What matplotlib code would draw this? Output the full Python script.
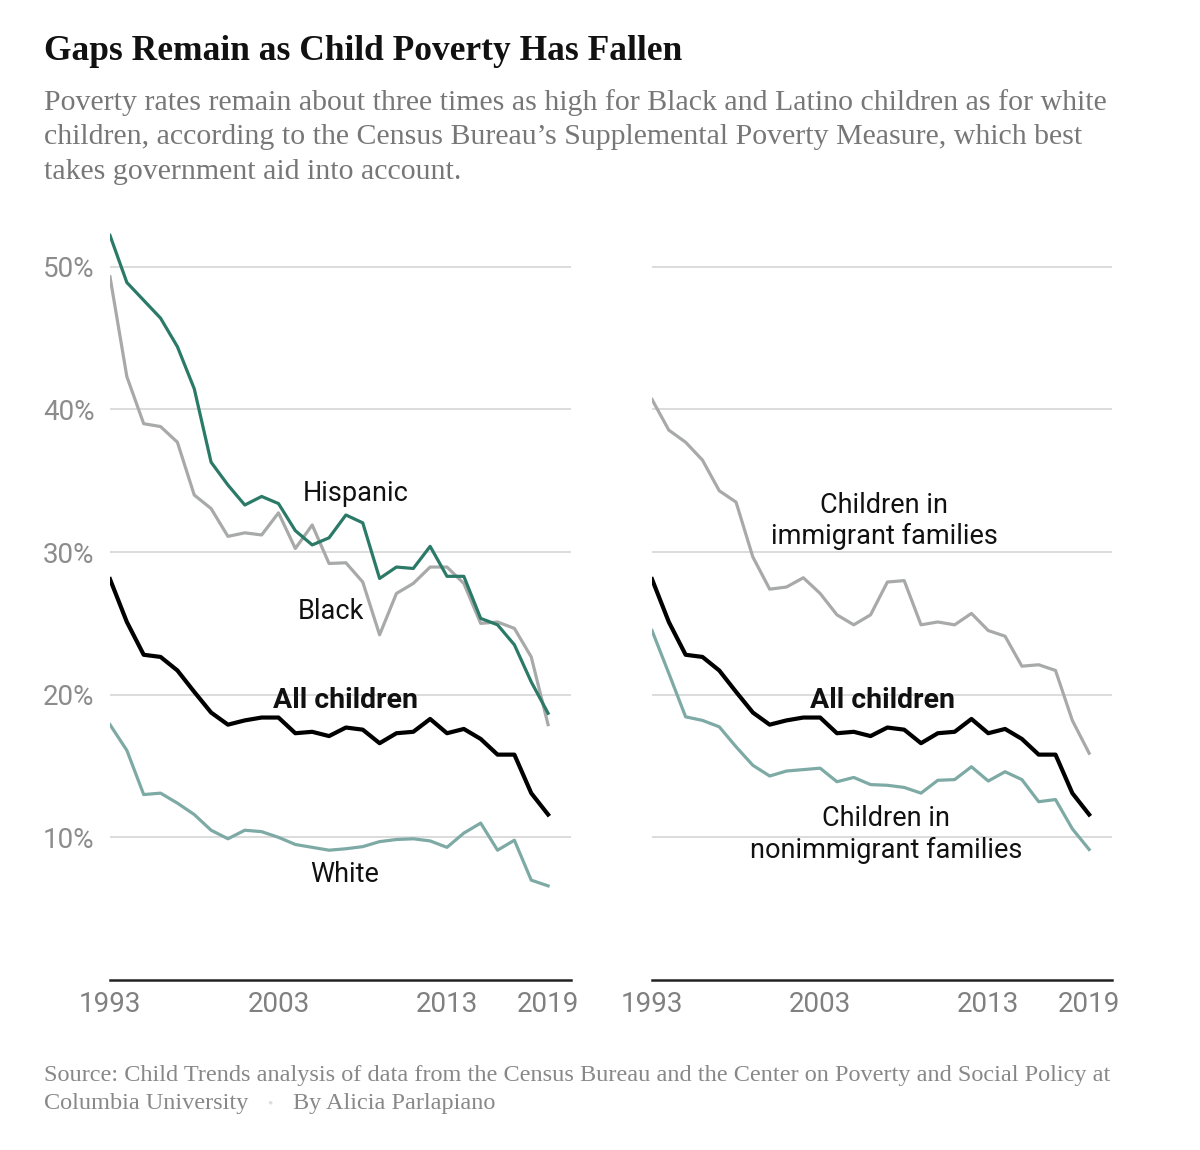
import matplotlib
matplotlib.use("Agg")
import matplotlib.pyplot as plt

# Child poverty rates (Supplemental Poverty Measure), percent
years = list(range(1993, 2020))

all_children = [28.1, 25.1, 22.8, 22.65, 21.7, 20.2, 18.75, 17.9, 18.2, 18.4, 18.4, 17.3, 17.4, 17.1,
                17.7, 17.55, 16.6, 17.3, 17.4, 18.3, 17.3, 17.6, 16.9, 15.8, 15.8, 13.1, 11.6]
hispanic = [52.2, 48.9, 47.65, 46.4, 44.4, 41.45, 36.3, 34.7, 33.3, 33.9, 33.4, 31.5, 30.5, 31.0,
            32.6, 32.05, 28.15, 28.95, 28.85, 30.4, 28.3, 28.3, 25.35, 24.9, 23.5, 20.9, 18.7]
black = [49.3, 42.3, 39.0, 38.8, 37.7, 34.0, 33.05, 31.1, 31.35, 31.2, 32.75, 30.25, 31.9, 29.2,
         29.25, 27.9, 24.2, 27.1, 27.8, 28.95, 28.95, 27.8, 25.0, 25.1, 24.65, 22.65, 17.9]
white = [17.9, 16.1, 13.0, 13.1, 12.4, 11.6, 10.5, 9.9, 10.5, 10.4, 10.0, 9.5, 9.3, 9.1,
         9.2, 9.35, 9.7, 9.85, 9.9, 9.75, 9.3, 10.3, 11.0, 9.1, 9.8, 7.0, 6.6]
immigrant = [40.7, 38.55, 37.7, 36.45, 34.3, 33.5, 29.65, 27.4, 27.55, 28.2, 27.1, 25.6, 24.9, 25.6,
             27.9, 28.0, 24.9, 25.1, 24.9, 25.7, 24.5, 24.1, 22.0, 22.1, 21.7, 18.2, 15.9]
nonimmigrant = [24.5, 21.5, 18.45, 18.2, 17.75, 16.35, 15.05, 14.3, 14.65, 14.75, 14.85, 13.9, 14.2, 13.7,
                13.65, 13.5, 13.1, 14.0, 14.05, 14.95, 13.95, 14.6, 14.05, 12.5, 12.65, 10.6, 9.15]

y_ticks = [10, 20, 30, 40, 50]
x_ticks = [1993, 2003, 2013, 2019]

SANS = "Roboto"
SERIF = "Liberation Serif"
TEAL_DARK = "#2b7a68"
TEAL_LIGHT = "#7eaaa5"
GRAY = "#a8aaa9"

W, H = 1200, 1150
fig = plt.figure(figsize=(12, 11.5), dpi=100)


def box(x0, x1, y_top=224, y_bot=980):
    return [x0 / W, 1 - y_bot / H, (x1 - x0) / W, (y_bot - y_top) / H]


ax1 = fig.add_axes(box(110, 571))
ax2 = fig.add_axes(box(652, 1112))

for ax in (ax1, ax2):
    ax.set_xlim(1993, 2020.36)
    ax.set_ylim(0, 53)
    for s in ("top", "right", "left"):
        ax.spines[s].set_visible(False)
    ax.spines["bottom"].set_color("#222222")
    ax.spines["bottom"].set_linewidth(1.8)
    ax.set_yticks(y_ticks)
    ax.yaxis.grid(True, color="#dcdcdc", linewidth=1.4)
    ax.set_axisbelow(True)
    ax.set_xticks(x_ticks)
    ax.set_xticklabels([str(x) for x in x_ticks], fontfamily=SANS, fontsize=20, color="#808080")
    ax.tick_params(axis="both", length=0)
    ax.tick_params(axis="x", pad=8)

ax1.set_yticklabels([f"{v}%" for v in y_ticks], fontfamily=SANS, fontsize=20, color="#8c8c8c")
ax1.tick_params(axis="y", pad=11)
ax2.set_yticklabels([])

# left panel
ax1.plot(years, black, color=GRAY, lw=2.3, zorder=2)
ax1.plot(years, hispanic, color=TEAL_DARK, lw=2.3, zorder=3)
ax1.plot(years, white, color=TEAL_LIGHT, lw=2.3, zorder=3)
ax1.plot(years, all_children, color="black", lw=3, zorder=4)

lab = dict(fontfamily=SANS, fontsize=19.5, color="#111111", ha="center", va="center")
bold = dict(lab, fontsize=20.5, fontweight="bold")
ax1.text(2007.6, 34.1, "Hispanic", **lab)
ax1.text(2006.1, 25.8, "Black", **lab)
ax1.text(2006.95, 19.6, "All children", **bold)
ax1.text(2006.9, 7.4, "White", **lab)

# right panel
ax2.plot(years, immigrant, color=GRAY, lw=2.3, zorder=2)
ax2.plot(years, nonimmigrant, color=TEAL_LIGHT, lw=2.3, zorder=3)
ax2.plot(years, all_children, color="black", lw=3, zorder=4)

ax2.text(2006.8, 32.2, "Children in\nimmigrant families", linespacing=1.2, **lab)
ax2.text(2006.7, 19.6, "All children", **bold)
ax2.text(2006.9, 10.2, "Children in\nnonimmigrant families", linespacing=1.2, **lab)

# header
fig.text(44 / W, 1 - 52 / H, "Gaps Remain as Child Poverty Has Fallen", fontfamily=SERIF,
         fontweight="bold", fontsize=25.5, color="#111111", va="center")
subtitle = ("Poverty rates remain about three times as high for Black and Latino children as for white\n"
            "children, according to the Census Bureau\u2019s Supplemental Poverty Measure, which best\n"
            "takes government aid into account.")
fig.text(44 / W, 1 - 137 / H, subtitle, fontfamily=SERIF, fontsize=21.5, color="#777777",
         va="center", linespacing=1.44)

# footer
foot = dict(fontfamily=SERIF, fontsize=17.5, color="#888888", va="center")
fig.text(44 / W, 1 - 1075 / H,
         "Source: Child Trends analysis of data from the Census Bureau and the Center on Poverty and Social Policy at",
         **foot)
fig.text(44 / W, 1 - 1104 / H, "Columbia University", **foot)
fig.text(270 / W, 1 - 1104 / H, "\u2022", fontfamily=SERIF, fontsize=11, color="#dddddd", va="center", ha="center")
fig.text(293 / W, 1 - 1104 / H, "By Alicia Parlapiano", **foot)

fig.savefig("out.png", dpi=100, facecolor="white")
